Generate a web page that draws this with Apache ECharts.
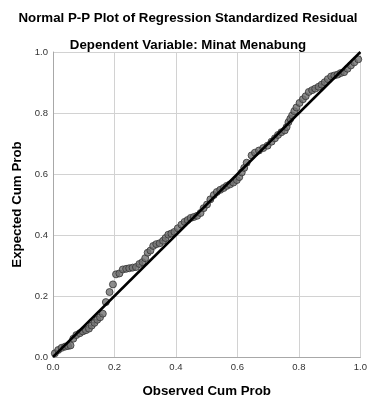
<!DOCTYPE html>
<html>
<head>
<meta charset="utf-8">
<script src="https://cdn.jsdelivr.net/npm/echarts@6/dist/echarts.min.js"></script>
<style>
  html, body { margin: 0; padding: 0; background: #fff; }
  #chart { width: 370px; height: 403px; }
</style>
</head>
<body>
<div id="chart"></div>
<script>
const observed = [
  0.006, 0.017, 0.028, 0.039, 0.049, 0.057, 0.066, 0.076, 0.087, 0.097,
  0.107, 0.117, 0.126, 0.135, 0.144, 0.153, 0.162, 0.172, 0.184, 0.195,
  0.205, 0.216, 0.227, 0.238, 0.248, 0.259, 0.270, 0.281, 0.291, 0.300,
  0.308, 0.317, 0.326, 0.336, 0.347, 0.358, 0.366, 0.375, 0.385, 0.395,
  0.406, 0.418, 0.428, 0.438, 0.448, 0.458, 0.469, 0.480, 0.490, 0.501,
  0.512, 0.523, 0.533, 0.544, 0.555, 0.565, 0.576, 0.587, 0.598, 0.606,
  0.614, 0.622, 0.630, 0.646, 0.657, 0.670, 0.684, 0.698, 0.711, 0.722,
  0.732, 0.743, 0.754, 0.760, 0.766, 0.772, 0.778, 0.785, 0.792, 0.802,
  0.813, 0.822, 0.832, 0.843, 0.853, 0.864, 0.874, 0.884, 0.894, 0.905,
  0.915, 0.926, 0.936, 0.947, 0.958, 0.969, 0.980, 0.993
];
const expected = [
  0.012, 0.023, 0.030, 0.034, 0.036, 0.038, 0.060, 0.072, 0.078, 0.084,
  0.088, 0.093, 0.103, 0.112, 0.122, 0.130, 0.142, 0.180, 0.213, 0.238,
  0.271, 0.274, 0.287, 0.289, 0.291, 0.293, 0.295, 0.305, 0.311, 0.324,
  0.342, 0.349, 0.364, 0.370, 0.373, 0.381, 0.390, 0.401, 0.405, 0.410,
  0.422, 0.434, 0.443, 0.449, 0.456, 0.459, 0.463, 0.472, 0.488, 0.500,
  0.517, 0.531, 0.541, 0.548, 0.554, 0.561, 0.566, 0.572, 0.580, 0.590,
  0.605, 0.620, 0.637, 0.661, 0.670, 0.677, 0.685, 0.693, 0.706, 0.717,
  0.728, 0.737, 0.743, 0.754, 0.770, 0.781, 0.792, 0.806, 0.818, 0.833,
  0.845, 0.855, 0.869, 0.875, 0.880, 0.886, 0.893, 0.901, 0.911, 0.920,
  0.923, 0.926, 0.931, 0.934, 0.945, 0.956, 0.966, 0.976
];
const refLine = [[0, 0], [1, 1]];
const tickStep = 0.2;

const chart = echarts.init(document.getElementById("chart"), null, { renderer: "canvas" });

const axisFont = { fontFamily: "Liberation Sans", fontSize: 13.3, fontWeight: "bold", color: "#000" };

chart.setOption({
  animation: false,
  textStyle: { fontFamily: "Liberation Sans" },
  title: [
    {
      text: "Normal P-P Plot of Regression Standardized Residual",
      left: 183,
      textAlign: "center",
      top: 7,
      textStyle: axisFont,
    },
    {
      text: "Dependent Variable: Minat Menabung",
      left: 183,
      textAlign: "center",
      top: 34,
      textStyle: axisFont,
    },
  ],
  grid: { left: 53, right: 8, top: 52, bottom: 42 },
  xAxis: {
    type: "value",
    min: 0,
    max: 1,
    interval: tickStep,
    name: "Observed Cum Prob",
    nameLocation: "middle",
    nameGap: 28,
    nameTextStyle: axisFont,
    axisLine: { lineStyle: { color: "#a8a8a8" } },
    axisTick: { show: false },
    axisLabel: {
      color: "#333",
      fontSize: 9.5,
      margin: 5,
      formatter: (v) => v.toFixed(1),
    },
    splitLine: { lineStyle: { color: "#d2d2d2" } },
  },
  yAxis: {
    type: "value",
    min: 0,
    max: 1,
    interval: tickStep,
    name: "Expected Cum Prob",
    nameLocation: "middle",
    nameGap: 29,
    nameTextStyle: axisFont,
    axisLine: { show: true, lineStyle: { color: "#a8a8a8" } },
    axisTick: { show: false },
    axisLabel: {
      color: "#333",
      fontSize: 9.5,
      margin: 5,
      formatter: (v) => v.toFixed(1),
    },
    splitLine: { lineStyle: { color: "#d2d2d2" } },
  },
  series: [
    {
      type: "scatter",
      data: observed.map((x, i) => [x, expected[i]]),
      symbolSize: 7,
      itemStyle: { color: "#707070", borderColor: "#333", borderWidth: 1 },
      z: 2,
    },
    {
      type: "line",
      data: refLine,
      showSymbol: false,
      lineStyle: { color: "#000", width: 2.5 },
      z: 3,
    },
  ],
});
</script>
</body>
</html>
